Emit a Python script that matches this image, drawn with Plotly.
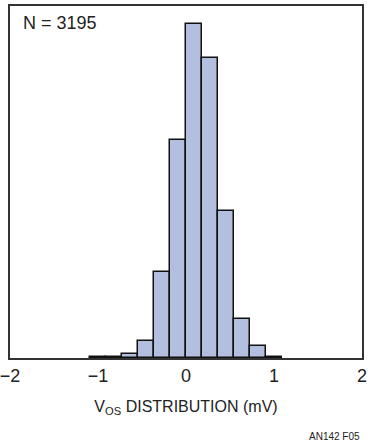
import plotly.graph_objects as go

bin_width = 0.182
bin_index = [-6, -5, -4, -3, -2, -1, 0, 1, 2, 3, 4, 5]
counts = [3, 4, 12, 47, 237, 599, 920, 825, 405, 107, 33, 3]
x_ticks = [-2, -1, 0, 1, 2]
x_tick_labels = ["−2", "−1", "0", "1", "2"]

centers = [(k + 0.5) * bin_width for k in bin_index]

FONT = "Liberation Sans Narrow, Arial Narrow, Liberation Sans, Arial, sans-serif"

fig = go.Figure()
fig.add_trace(go.Bar(
    x=centers, y=counts, width=bin_width,
    marker=dict(color="#b3bfdf", line=dict(color="#111111", width=1.5)),
    hoverinfo="x+y",
))

fig.update_layout(
    width=372, height=448,
    margin=dict(l=10, r=10, t=6, b=90, autoexpand=False),
    paper_bgcolor="white", plot_bgcolor="white",
    showlegend=False,
    bargap=0,
    font=dict(family=FONT, color="#222222", size=18),
    xaxis=dict(
        range=[-2, 2], tickvals=x_ticks, ticktext=x_tick_labels,
        showgrid=False, zeroline=False, ticks="", automargin=False,
        ticklabeloverflow="allow",
        showline=True, mirror=True, linecolor="#333333", linewidth=2,
        tickfont=dict(size=18, family=FONT, color="#222222"),
        title=dict(text="V<sub>OS</sub> DISTRIBUTION (mV)", standoff=16,
                   font=dict(size=16, family=FONT, color="#222222")),
    ),
    yaxis=dict(
        range=[0, 969], showticklabels=False, showgrid=False, zeroline=False,
        ticks="", automargin=False,
        showline=True, mirror=True, linecolor="#333333", linewidth=2,
    ),
    annotations=[
        dict(text="N = 3195", xref="paper", yref="paper", x=0.03, y=0.985,
             xanchor="left", yanchor="top", showarrow=False,
             font=dict(size=18, family=FONT, color="#222222")),
        dict(text="AN142 F05", xref="paper", yref="paper", x=1.0, y=-0.224,
             xanchor="right", yanchor="middle", showarrow=False,
             font=dict(size=10, family=FONT, color="#222222")),
    ],
)

fig.write_html(
    "out.html",
    config={"displayModeBar": False},
    post_script="document.body.style.margin='0';document.body.style.overflow='hidden';",
)
